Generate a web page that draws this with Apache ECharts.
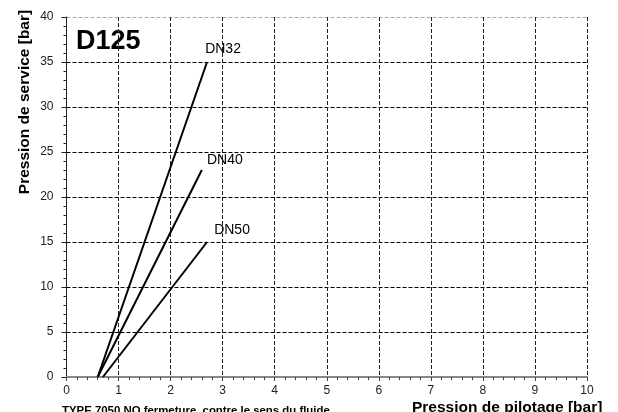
<!DOCTYPE html>
<html>
<head>
<meta charset="utf-8">
<script src="https://cdn.jsdelivr.net/npm/echarts@6/dist/echarts.min.js"></script>
<style>html,body{margin:0;padding:0;background:#fff}#c{width:618px;height:412px}</style>
</head>
<body>
<div id="c"></div>
<script>
const seriesNames = ['DN32', 'DN40', 'DN50'];
const dn32 = [[0.6, 0], [2.7, 35]];
const dn40 = [[0.6, 0], [2.6, 23]];
const dn50 = [[0.7, 0], [2.7, 15]];
const xTicks = [0, 1, 2, 3, 4, 5, 6, 7, 8, 9, 10];
const yTicks = [0, 5, 10, 15, 20, 25, 30, 35, 40];
const chartTitle = 'D125';
const xTitle = 'Pression de pilotage [bar]';
const yTitle = 'Pression de service [bar]';
const subTitle = 'TYPE 7050 NO fermeture, contre le sens du fluide';

const FONT = '"Liberation Sans", Arial, sans-serif';
const labelOffsets = [[16, -1], [23, 2], [25, 0]];
const dataSets = [dn32, dn40, dn50];

const chart = echarts.init(document.getElementById('c'), null, {renderer: 'canvas'});
const ySplitColors = yTicks.map((v, i) => i === 0 ? 'rgba(0,0,0,0)' : (i === yTicks.length - 1 ? '#aaa' : '#000'));
const xSplitColors = xTicks.map((v, i) => i === 0 ? 'rgba(0,0,0,0)' : '#222');

chart.setOption({
  animation: false,
  backgroundColor: '#fff',
  grid: {left: 66.5, right: 31, top: 17, bottom: 35, containLabel: false},
  xAxis: {
    type: 'value', min: xTicks[0], max: xTicks[xTicks.length - 1], interval: 1,
    axisLine: {show: true, lineStyle: {color: '#888', width: 2}},
    axisTick: {show: true, length: 4, lineStyle: {color: '#444'}},
    minorTick: {show: true, splitNumber: 5, length: 3, lineStyle: {color: '#444'}},
    axisLabel: {color: '#222', fontSize: 12, fontFamily: FONT, margin: 8},
    splitLine: {show: true, lineStyle: {color: xSplitColors, type: [4, 2], width: 1}}
  },
  yAxis: {
    type: 'value', min: yTicks[0], max: yTicks[yTicks.length - 1], interval: 5,
    axisLine: {show: true, lineStyle: {color: '#222', width: 1}},
    axisTick: {show: true, length: 5, lineStyle: {color: '#222'}},
    minorTick: {show: true, splitNumber: 5, length: 3, lineStyle: {color: '#222'}},
    axisLabel: {color: '#222', fontSize: 12, fontFamily: FONT, margin: 13},
    splitLine: {show: true, lineStyle: {color: ySplitColors, type: [4, 2], width: 1}}
  },
  series: seriesNames.map((name, i) => ({
    type: 'line', name: name,
    data: dataSets[i].map((p, j) => j === dataSets[i].length - 1 ? {
      value: p,
      label: {show: true, position: 'top', offset: labelOffsets[i], formatter: name,
        color: '#000', fontSize: 14, fontFamily: FONT}
    } : {value: p}),
    symbol: 'circle', symbolSize: 0, showSymbol: true,
    lineStyle: {color: '#000', width: 2},
    itemStyle: {color: '#000'},
    emphasis: {disabled: true},
    silent: true
  })),
  graphic: [
    {type: 'text', left: 76, top: 28, silent: true,
      style: {text: chartTitle, font: 'bold 27px ' + FONT, fill: '#000'}},
    {type: 'text', x: 25, y: 102, rotation: Math.PI / 2, silent: true,
      style: {text: yTitle, font: 'bold 15.5px ' + FONT, fill: '#000', align: 'center', verticalAlign: 'middle'}},
    {type: 'text', x: 412, y: 400, silent: true,
      style: {text: xTitle, font: 'bold 15.5px ' + FONT, fill: '#000', align: 'left', verticalAlign: 'top'}},
    {type: 'text', x: 62, y: 405.5, silent: true,
      style: {text: subTitle, font: 'bold 11.4px ' + FONT, fill: '#000', align: 'left', verticalAlign: 'top'}}
  ]
});
</script>
</body>
</html>
